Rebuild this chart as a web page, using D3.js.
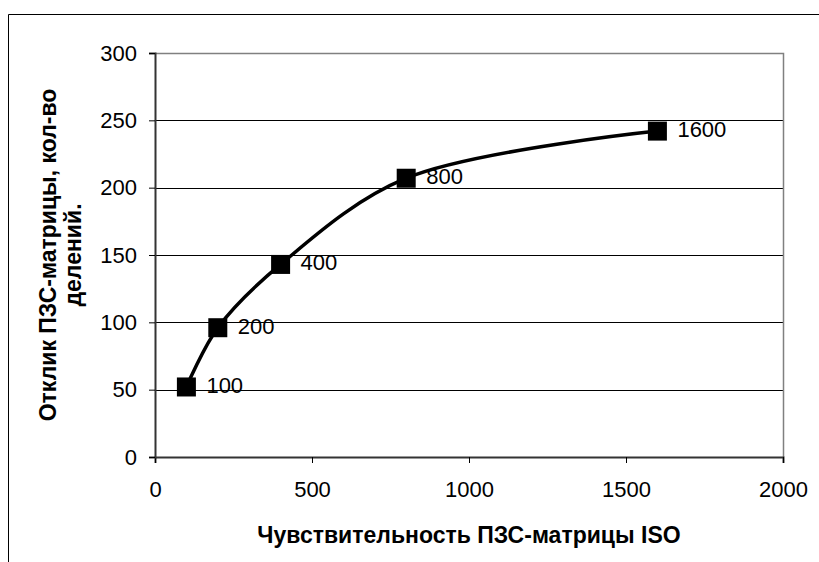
<!DOCTYPE html>
<html>
<head>
<meta charset="utf-8">
<script src="https://cdn.jsdelivr.net/npm/d3@7"></script>
<style>
  body { margin: 0; background: #fff; }
  text { font-family: "Liberation Sans", Arial, sans-serif; }
</style>
</head>
<body>
<svg id="chart" width="819" height="562"></svg>
<script>
// ISO sensitivity vs. CCD response
var iso = [100, 200, 400, 800, 1600];
var response = [52, 96, 143, 207, 242];
var pointLabels = ["100", "200", "400", "800", "1600"];
var xTicks = [0, 500, 1000, 1500, 2000];
var yTicks = [0, 50, 100, 150, 200, 250, 300];

var svg = d3.select("#chart");

// outer frame (right/bottom edges off-page)
svg.append("path")
    .attr("d", "M8.5,562 L8.5,14.5 L819,14.5")
    .attr("fill", "none")
    .attr("stroke", "#000")
    .attr("stroke-width", 1);

var plotL = 155, plotR = 783, plotT = 53, plotB = 457;

var x = d3.scaleLinear().domain([0, 2000]).range([plotL, plotR]);
var y = d3.scaleLinear().domain([0, 300]).range([plotB, plotT]);

// gridlines
svg.append("g").selectAll("line")
    .data(yTicks.slice(1, -1))
  .enter().append("line")
    .attr("x1", plotL).attr("x2", plotR)
    .attr("y1", function(d) { return Math.round(y(d)) + 0.5; })
    .attr("y2", function(d) { return Math.round(y(d)) + 0.5; })
    .attr("stroke", "#000");

// plot area border top/right (grey)
svg.append("path")
    .attr("d", "M" + plotL + "," + (plotT + 0.5) + " L" + (plotR + 0.5) + "," + (plotT + 0.5) + " L" + (plotR + 0.5) + "," + plotB)
    .attr("fill", "none")
    .attr("stroke", "#808080")
    .attr("stroke-width", 1.5);

// axes
var fmt = d3.format("d");
var xAxis = svg.append("g")
    .attr("transform", "translate(0," + plotB + ")")
    .call(d3.axisBottom(x).tickValues(xTicks).tickFormat(fmt).tickSize(6).tickPadding(18));
var yAxis = svg.append("g")
    .attr("transform", "translate(" + plotL + ",0)")
    .call(d3.axisLeft(y).tickValues(yTicks).tickFormat(fmt).tickSize(6).tickPadding(12));

[xAxis, yAxis].forEach(function(a) {
  a.attr("font-size", 22).attr("font-family", "Liberation Sans, Arial, sans-serif");
  a.select(".domain").attr("stroke", "#333").attr("stroke-width", 2);
  a.selectAll(".tick line").attr("stroke", "#000");
  a.selectAll("text").attr("fill", "#000");
});

// smoothed line
var pts = iso.map(function(d, i) { return [d, response[i]]; });
var line = d3.line()
    .x(function(d) { return x(d[0]); })
    .y(function(d) { return y(d[1]); })
    .curve(d3.curveCatmullRom.alpha(0.5));

svg.append("path")
    .datum(pts)
    .attr("d", line)
    .attr("fill", "none")
    .attr("stroke", "#000")
    .attr("stroke-width", 3.5);

// markers
svg.append("g").selectAll("rect")
    .data(pts)
  .enter().append("rect")
    .attr("x", function(d) { return x(d[0]) - 9.5; })
    .attr("y", function(d) { return y(d[1]) - 9.5; })
    .attr("width", 19)
    .attr("height", 19)
    .attr("fill", "#000");

// point labels
svg.append("g").selectAll("text")
    .data(pts)
  .enter().append("text")
    .attr("x", function(d) { return x(d[0]) + 20; })
    .attr("y", function(d) { return y(d[1]) + 6; })
    .attr("font-size", 22)
    .text(function(d, i) { return pointLabels[i]; });

// axis titles
svg.append("text")
    .attr("x", (plotL + plotR) / 2)
    .attr("y", 543)
    .attr("text-anchor", "middle")
    .attr("font-size", 23)
    .attr("font-weight", "bold")
    .text("Чувствительность ПЗС-матрицы ISO");

var yt = svg.append("text")
    .attr("transform", "translate(56," + (plotT + plotB) / 2 + ") rotate(-90)")
    .attr("text-anchor", "middle")
    .attr("font-size", 23)
    .attr("font-weight", "bold");
yt.append("tspan").attr("x", 0).attr("dy", 0).text("Отклик ПЗС-матрицы, кол-во");
yt.append("tspan").attr("x", 0).attr("dy", 25).text("делений.");
</script>
</body>
</html>
